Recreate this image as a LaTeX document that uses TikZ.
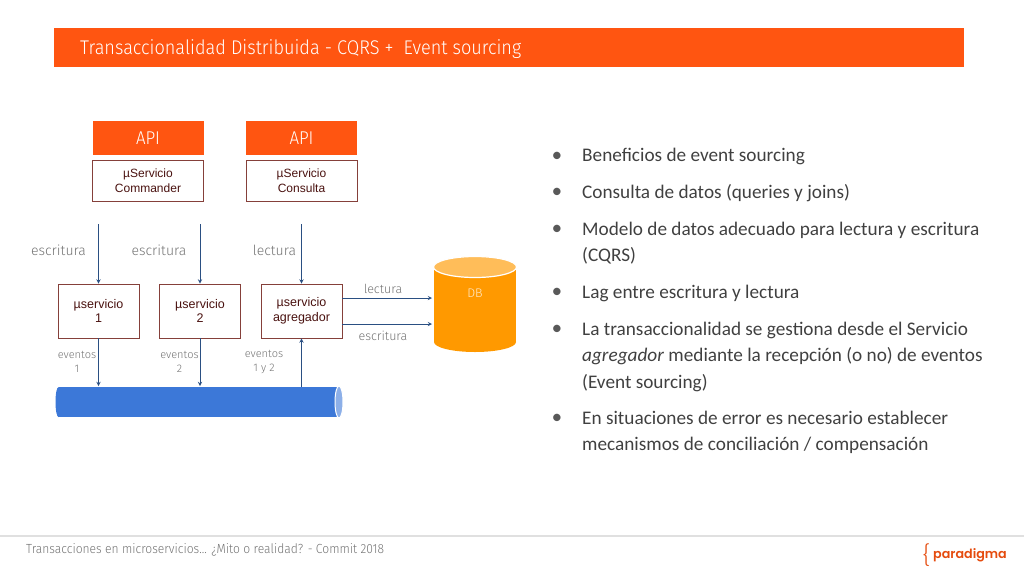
\documentclass[tikz,border=0pt]{standalone}
\usepackage{fontspec}
\usepackage{tikz}
\usetikzlibrary{arrows}
\usetikzlibrary{shapes.geometric}
\setmainfont{Carlito}
\newfontfamily\titlefont[FakeStretch=0.915]{Fira Sans Light}
\newfontfamily\labelfont{Fira Sans Light}
\newfontfamily\boxfont{Liberation Sans}
\newfontfamily\logofont{Poppins SemiBold}
\definecolor{naranja}{HTML}{FF5511}
\definecolor{borde}{HTML}{85403A}
\definecolor{tinta}{HTML}{4A1210}
\definecolor{flecha}{HTML}{2A4F82}
\definecolor{gris}{HTML}{747474}
\definecolor{azul}{HTML}{3C78D8}
\definecolor{azulc}{HTML}{8CAFE8}
\definecolor{ambar}{HTML}{FF9900}
\definecolor{ambarc}{HTML}{FFBD59}
\definecolor{ambart}{HTML}{FFEBCC}
\tikzstyle{api} = [rectangle, fill=naranja, text=white, minimum width=111pt, minimum height=34pt, inner sep=0pt, font=\titlefont\fontsize{18.5}{20}\selectfont]
\tikzstyle{serv} = [rectangle, draw=borde, line width=0.9pt, fill=white, text=tinta, align=center, inner sep=0pt, font=\boxfont\fontsize{12.5}{14.5}\selectfont]
\tikzstyle{servt} = [serv, minimum width=111pt, minimum height=41pt, font=\boxfont\fontsize{12}{14.5}\selectfont]
\tikzstyle{servb} = [serv, minimum width=81pt, minimum height=54pt]
\tikzstyle{l} = [text=gris, font=\labelfont\fontsize{14}{16}\selectfont]
\tikzstyle{ld} = [text=gris, font=\labelfont\fontsize{12.5}{15}\selectfont]
\tikzstyle{lp} = [text=gris, align=center, font=\labelfont\fontsize{11}{14.5}\selectfont]
\tikzstyle{c} = [flecha, line width=0.9pt, ->, >=stealth]
\tikzstyle{b} = [anchor=north west, align=left, inner sep=0pt, text=black!75, font=\fontsize{19.25}{26.3}\selectfont]
\tikzstyle{d} = [anchor=center, text=black!65, inner sep=0pt, font=\fontsize{16}{20}\selectfont]
\tikzstyle{e} = [ellipse, inner sep=0pt]
\begin{document}
\begin{tikzpicture}[x=1pt,y=-1pt]
	\useasboundingbox (0,0) rectangle (1024,576);
	\node[fill=naranja, minimum width=910pt, minimum height=39pt, inner sep=0pt] (head) at (509,47) {};
	\node[anchor=west, text=white, inner sep=0pt, font=\titlefont\fontsize{19.8}{22}\selectfont] (title) at (80,49) {Transaccionalidad Distribuida - CQRS + \ Event sourcing};
	%%%%%%%%%%%%%%%%%%%%%%%%%%%%%%%%%%
	\node[api] (api1) at (148,138) {API};
	\node[api] (api2) at (301.5,138) {API};
	\node[servt] (cmd) at (148,180.5) {µServicio\\Commander};
	\node[servt] (con) at (301.5,180.5) {µServicio\\Consulta};
	\node[servb] (s1) at (98.5,311) {µservicio\\1};
	\node[servb] (s2) at (200,311) {µservicio\\2};
	\node[servb] (ag) at (301.5,311) {µservicio\\agregador};
	%%%%%%%%%%%%%%%%%%%%%%%%%%%%%%%%%%
	\node[e, fill=azul, minimum width=6pt, minimum height=30pt] (busl) at (58.5,402) {};
	\node[fill=azul, minimum width=280pt, minimum height=30pt, inner sep=0pt] (bus) at (198.5,402) {};
	\node[e, fill=azulc, draw=white, line width=1pt, minimum width=8pt, minimum height=32pt] (busr) at (339,402) {};
	\node[e, fill=ambar, minimum width=82pt, minimum height=20pt] (dbb) at (475,342) {};
	\node[fill=ambar, minimum width=82pt, minimum height=75pt, inner sep=0pt] (db) at (475,304.5) {};
	\node[e, fill=ambarc, draw=white, line width=1.2pt, minimum width=83pt, minimum height=21pt] (dbt) at (475,267) {};
	\node[text=ambart, inner sep=0pt, font=\labelfont\fontsize{12.5}{14}\selectfont] (dbl) at (475,293) {DB};
	%%%%%%%%%%%%%%%%%%%%%%%%%%%%%%%%%%
	\coordinate (a1) at (98.5,224);
	\coordinate (a2) at (200,224);
	\coordinate (a3) at (301.5,224);
	\coordinate (e1) at (98.5,386);
	\coordinate (e2) at (200,386);
	\coordinate (e3) at (301.5,387);
	\coordinate (d1) at (432,298);
	\coordinate (d2) at (432,324);
	\coordinate (o1) at (342,298);
	\coordinate (o2) at (342,324);
	\draw[c] (a1) -- (s1);
	\draw[c] (a2) -- (s2);
	\draw[c] (a3) -- (ag);
	\draw[c] (s1) -- (e1);
	\draw[c] (s2) -- (e2);
	\draw[c] (e3) -- (ag);
	\draw[c] (o1) -- (d1);
	\draw[c] (o2) -- (d2);
	%%%%%%%%%%%%%%%%%%%%%%%%%%%%%%%%%%
	\node[l] (l1) at (58.5,250) {escritura};
	\node[l] (l2) at (159,250) {escritura};
	\node[l] (l3) at (274.5,250) {lectura};
	\node[ld] (l4) at (383,289) {lectura};
	\node[ld] (l5) at (383,336) {escritura};
	\node[lp] (p1) at (77,362) {eventos\\1};
	\node[lp] (p2) at (179.5,362) {eventos\\2};
	\node[lp] (p3) at (264,362) {eventos\\1 y 2};
	%%%%%%%%%%%%%%%%%%%%%%%%%%%%%%%%%%
	\node[d] (d1b) at (557,156) {●};
	\node[d] (d2b) at (557,192) {●};
	\node[d] (d3b) at (557,229) {●};
	\node[d] (d4b) at (557,292) {●};
	\node[d] (d5b) at (557,329) {●};
	\node[d] (d6b) at (557,418) {●};
	\node[b] (t1) at (582,148) {Beneficios de event sourcing};
	\node[b] (t2) at (582,184.5) {Consulta de datos (queries y joins)};
	\node[b] (t3) at (582,221.5) {Modelo de datos adecuado para lectura y escritura\\(CQRS)};
	\node[b] (t4) at (582,285) {Lag entre escritura y lectura};
	\node[b] (t5) at (582,322) {La transaccionalidad se gestiona desde el Servicio\\\textit{agregador} mediante la recepción (o no) de eventos\\(Event sourcing)};
	\node[b] (t6) at (582,411) {En situaciones de error es necesario establecer\\mecanismos de conciliación / compensación};
	%%%%%%%%%%%%%%%%%%%%%%%%%%%%%%%%%%
	\node[fill=black!12, minimum width=1024pt, minimum height=1.5pt, inner sep=0pt] (rule) at (512,536) {};
	\node[anchor=west, text=gris, inner sep=0pt, font=\titlefont\fontsize{13.2}{16}\selectfont] (foot) at (26,550) {Transacciones en microservicios... ¿Mito o realidad? - Commit 2018};
	\node[text=naranja!90!black, inner sep=0pt, font=\labelfont\fontsize{24}{26}\selectfont] (brace) at (926.5,555) {\{};
	\node[anchor=west, text=naranja!90!black, inner sep=0pt, font=\logofont\fontsize{12.7}{18}\selectfont] (logo) at (933,555) {paradigma};
\end{tikzpicture}
\end{document}
